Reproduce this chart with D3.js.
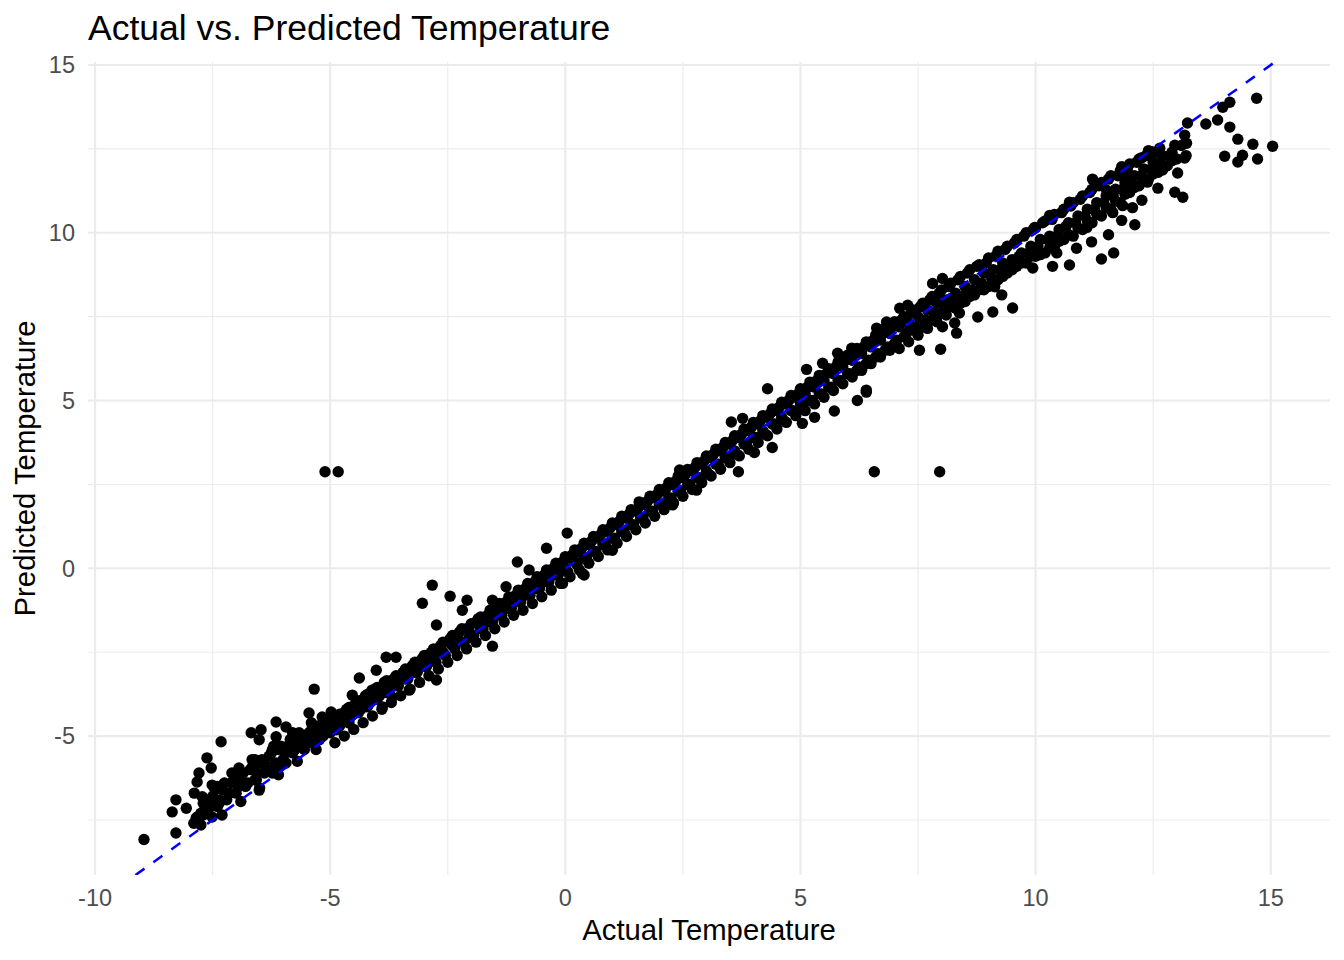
<!DOCTYPE html>
<html lang="en">
<head>
  <meta charset="UTF-8">
  <title>Actual vs. Predicted Temperature</title>
  <script src="https://d3js.org/d3.v7.min.js"></script>
  <style>
    body { margin: 0; padding: 0; background: #fff; }
    svg { display: block; font-family: "Liberation Sans", Arial, Helvetica, sans-serif; }
  </style>
</head>
<body>
<svg id="chart" width="1344" height="960"></svg>
<script>
// [actual, predicted] pairs
const bandMid = [
  [-7.9,-7.6],[-7.85,-7.45],[-7.75,-7.65],[-7.7,-7.35],
  [-7.8,-7.5],[-7.7,-7.0],[-7.6,-7.3],[-7.5,-6.8],[-7.4,-7.1],[-7.3,-6.6],[-7.2,-6.9],[-7.1,-6.4],[-7.0,-6.7],[-6.9,-6.2],
  [-6.8,-6.5],[-6.7,-6.0],[-6.6,-6.3],[-6.5,-5.8],[-6.4,-6.1],[-6.3,-5.6],[-6.2,-5.9],[-6.1,-5.4],[-6.0,-5.7],[-5.9,-5.3],
  [-5.8,-5.5],[-5.7,-5.1],[-5.6,-5.3],[-5.5,-5.0],[-5.4,-5.2],[-5.3,-4.9],[-5.2,-5.0],[-5.1,-4.7],[-5.0,-4.9],[-4.9,-4.5],
  [-4.8,-4.7],[-4.7,-4.3],[-4.6,-4.5],[-4.5,-4.1],[-4.4,-4.3],[-4.3,-3.9],[-4.2,-4.1],[-4.1,-3.8],[-4.0,-3.9],[-3.9,-3.6],
  [-3.8,-3.7],[-3.7,-3.4],[-3.6,-3.5],[-3.5,-3.2],[-3.4,-3.3],[-3.3,-3.0],[-3.2,-3.1],[-3.1,-2.8],[-3.0,-2.9],[-2.9,-2.6],
  [-2.8,-2.7],[-2.7,-2.5],[-2.6,-2.5],[-2.5,-2.2],[-2.4,-2.3],[-2.3,-2.0],[-2.2,-2.2],[-2.1,-1.8],[-2.0,-2.0],[-1.9,-1.6],
  [-1.8,-1.8],[-1.7,-1.5],[-1.6,-1.6],[-1.5,-1.3],[-1.4,-1.4],[-1.3,-1.1],[-1.2,-1.2],[-1.1,-0.9],[-1.0,-1.0],[-0.9,-0.7],
  [-0.8,-0.8],[-0.7,-0.5],[-0.6,-0.6],[-0.5,-0.3],[-0.4,-0.4],[-0.3,-0.1],[-0.2,-0.2],[-0.1,0.1],[0.0,0.0],[0.1,0.3],
  [0.2,0.2],[0.3,0.5],[0.4,0.3],[0.5,0.7],[0.6,0.5],[0.7,0.9],[0.8,0.7],[0.9,1.1],[1.0,0.9],[1.1,1.3],
  [1.2,1.1],[1.3,1.5],[1.4,1.3],[1.5,1.7],[1.6,1.5],[1.7,1.9],[1.8,1.7],[1.9,2.1],[2.0,1.9],[2.1,2.3],
  [2.2,2.1],[2.3,2.5],[2.4,2.3],[2.5,2.7],[2.6,2.5],[2.7,2.9],[2.8,2.7],[2.9,3.1],[3.0,2.9],[3.1,3.3],
  [3.2,3.1],[3.3,3.5],[3.4,3.3],[3.5,3.7],[3.6,3.5],[3.7,3.9],[3.8,3.7],[3.9,4.1],[4.0,3.9],[4.1,4.3],
  [4.2,4.1],[4.3,4.5],[4.4,4.3],[4.5,4.7],[4.6,4.5],[4.7,4.9],[4.8,4.7],[4.9,5.1],[5.0,4.9],[5.1,5.2],
  [5.2,5.0],[5.3,5.4],[5.4,5.2],[5.5,5.6],[5.6,5.4],[5.7,5.8],[5.8,5.6],[5.9,6.0],[6.0,5.8],[6.1,6.2],
  [6.2,5.9],[6.3,6.4],[6.4,6.1],[6.5,6.6],[6.6,6.3],[6.7,6.8],[6.8,6.5],[6.9,7.0],[7.0,6.7],[7.1,7.2],
  [7.2,6.9],[7.3,7.3],[7.4,7.1],[7.5,7.5],[7.6,7.2],[7.7,7.7],[7.8,7.4],[7.9,7.9],[8.0,7.6],[8.1,8.0],
  [8.2,7.8],[8.3,8.2],[8.4,7.9],[8.5,8.4],[8.6,8.1],[8.7,8.6],[8.8,8.3],[8.9,8.8],[9.0,8.4],[9.1,8.9],
  [9.2,8.6],[9.3,9.1],[9.4,8.8],[9.5,9.2],[9.6,9.0],[9.7,9.4],[9.8,9.1],[9.9,9.6],[10.0,9.3],[10.1,9.8],
  [10.2,9.4],[10.3,9.9],[10.4,9.6],[10.5,10.1],[10.6,9.8],[10.7,10.3],[10.8,9.9],[10.9,10.5],[11.0,10.1],[11.1,10.7],
  [11.2,10.3],[11.3,10.9],[11.4,10.5],[11.5,11.1],[11.6,10.7],[11.7,11.3],[11.8,10.9],[11.9,11.5],[12.0,11.2],[12.1,11.7],
  [12.2,11.4],[12.3,11.9],[12.4,11.6],[12.5,12.1],[12.6,11.8],[12.7,12.3],[12.8,12.0],[12.9,12.4],[13.0,12.2],[13.1,12.6],
  [13.2,12.3]
];

const bandLow = [
  [-7.75,-7.3],[-7.55,-7.1],[-7.35,-6.9],[-7.15,-6.7],[-6.95,-6.5],[-6.75,-6.4],[-6.55,-6.1],[-6.35,-5.9],[-6.15,-5.8],[-5.95,-5.5],
  [-5.75,-5.4],[-5.55,-5.4],[-5.35,-5.2],[-5.15,-5.0],[-4.95,-4.8],[-4.75,-4.6],[-4.55,-4.4],[-4.35,-4.2],[-4.15,-4.0],[-3.95,-3.8],
  [-3.75,-3.6],[-3.55,-3.5],[-3.35,-3.3],[-3.15,-3.1],[-2.95,-2.9],[-2.75,-2.8],[-2.55,-2.6],[-2.35,-2.4],[-2.15,-2.2],[-1.95,-2.0],
  [-1.75,-1.8],[-1.55,-1.6],[-1.35,-1.4],[-1.15,-1.2],[-0.95,-1.0],[-0.75,-0.8],[-0.55,-0.6],[-0.35,-0.4],[-0.15,-0.2],[0.05,-0.1],
  [0.25,0.1],[0.45,0.3],[0.65,0.5],[0.85,0.7],[1.05,0.9],[1.25,1.1],[1.45,1.3],[1.65,1.5],[1.85,1.7],[2.05,1.9],
  [2.25,2.1],[2.45,2.3],[2.65,2.5],[2.85,2.7],[3.05,2.8],[3.25,3.1],[3.45,3.3],[3.65,3.4],[3.85,3.7],[4.05,3.9],
  [4.25,4.0],[4.45,4.3],[4.65,4.4],[4.85,4.7],[5.05,4.8],[5.25,5.0],[5.45,5.2],[5.65,5.4],[5.85,5.6],[6.05,5.8],
  [6.25,6.0],[6.45,6.2],[6.65,6.4],[6.85,6.6],[7.05,6.8],[7.25,7.0],[7.45,7.2],[7.65,7.4],[7.85,7.6],[8.05,7.8],
  [8.25,8.0],[8.45,8.1],[8.65,8.3],[8.85,8.5],[9.05,8.7],[9.25,8.9],[9.45,9.0],[9.65,9.3],[9.85,9.4],[10.05,9.6],
  [10.25,9.8],[10.45,9.9],[10.65,10.2],[10.85,10.3],[11.05,10.5],[11.25,10.7],[11.45,10.9],[11.65,11.1],[11.85,11.3],[12.05,11.5],
  [12.25,11.7],[12.45,11.9],[12.65,12.1],[12.85,12.3]
];

const bandHigh = [
  [-7.65,-6.9],[-7.45,-6.6],[-7.25,-6.4],[-7.05,-6.3],[-6.85,-6.1],[-6.65,-5.9],[-6.45,-5.7],[-6.25,-5.5],[-6.05,-5.3],[-5.85,-5.1],
  [-5.65,-5.0],[-5.45,-4.9],[-5.25,-4.7],[-5.05,-4.5],[-4.85,-4.4],[-4.65,-4.2],[-4.45,-4.0],[-4.25,-3.8],[-4.05,-3.6],[-3.85,-3.4],
  [-3.65,-3.3],[-3.45,-3.1],[-3.25,-2.9],[-3.05,-2.7],[-2.85,-2.5],[-2.65,-2.3],[-2.45,-2.1],[-2.25,-1.9],[-2.05,-1.8],[-1.85,-1.5],
  [-1.65,-1.4],[-1.45,-1.2],[-1.25,-1.0],[-1.05,-0.8],[-0.85,-0.6],[-0.65,-0.4],[-0.45,-0.2],[-0.25,0.0],[-0.05,0.2],[0.15,0.4],
  [0.35,0.6],[0.55,0.8],[0.75,1.0],[0.95,1.2],[1.15,1.4],[1.35,1.6],[1.55,1.8],[1.75,2.0],[1.95,2.2],[2.15,2.4],
  [2.35,2.6],[2.55,2.8],[2.75,3.0],[2.95,3.2],[3.15,3.4],[3.35,3.6],[3.55,3.8],[3.75,4.0],[3.95,4.2],[4.15,4.4],
  [4.35,4.6],[4.55,4.8],[4.75,5.0],[4.95,5.2],[5.15,5.4],[5.35,5.6],[5.55,5.8],[5.75,6.0],[5.95,6.2],[6.15,6.4],
  [6.35,6.6],[6.55,6.8],[6.75,7.0],[6.95,7.2],[7.15,7.4],[7.35,7.6],[7.55,7.8],[7.75,8.0],[7.95,8.2],[8.15,8.4],
  [8.35,8.6],[8.55,8.8],[8.75,9.0],[8.95,9.1],[9.15,9.3],[9.35,9.5],[9.55,9.7],[9.75,9.9],[9.95,10.1],[10.15,10.3],
  [10.35,10.4],[10.55,10.6],[10.75,10.8],[10.95,11.0],[11.15,11.2],[11.35,11.4],[11.55,11.6],[11.75,11.7],[11.95,11.9],[12.15,12.1],
  [12.35,12.3],[12.55,12.4]
];

const edgeHigh = [
  [-7.4,-6.5],[-7.0,-6.1],[-6.6,-5.7],[-6.2,-5.3],[-5.8,-4.9],[-5.4,-4.6],
  [-5.0,-4.55],[-4.8,-4.35],[-4.6,-4.15],[-4.4,-3.95],[-4.2,-3.75],[-4.0,-3.55],[-3.8,-3.35],[-3.6,-3.2],[-3.4,-3.0],[-3.2,-2.8],
  [-3.0,-2.6],[-2.8,-2.4],[-2.6,-2.2],[-2.4,-2.0],[-2.2,-1.8],[-2.0,-1.65],[-1.8,-1.45],[-1.6,-1.25],[-1.4,-1.05],[-1.2,-0.85],
  [-1.0,-0.65],[-0.8,-0.45],[-0.6,-0.25],[-0.4,-0.05],[-0.2,0.15],[0.0,0.35],[0.2,0.55],[0.4,0.75],[0.6,0.95],[0.8,1.15],
  [1.0,1.35],[1.2,1.55],[1.4,1.75],[1.6,1.95],[1.8,2.15],[2.0,2.35],[2.2,2.55],[2.4,2.75],[2.6,2.95],[2.8,3.15],
  [3.0,3.35],[3.2,3.55],[3.4,3.75],[3.6,3.95],[3.8,4.15],[4.0,4.35],[4.2,4.55],[4.4,4.75],[4.6,4.95],[4.8,5.15],
  [5.0,5.35],[5.2,5.55],[5.4,5.75],[5.6,5.95],[5.8,6.15],[6.0,6.35],[6.2,6.55],[6.4,6.75],[6.6,6.95],[6.8,7.15],[7.0,7.35],
  [7.2,7.5],[7.4,7.7],[7.6,7.9],[7.8,8.1],[8.0,8.3],[8.2,8.5],[8.4,8.7],[8.6,8.9],[8.8,9.05],[9.0,9.25],
  [9.2,9.45],[9.4,9.6],[9.6,9.8],[9.8,10.0],
  [10.0,10.15],[10.2,10.35],[10.4,10.55],[10.6,10.7],[10.8,10.9],[11.0,11.1],[11.2,11.3],[11.4,11.5],[11.6,11.7],[11.8,11.85],
  [12.0,12.05],[12.2,12.2],[12.4,12.45]
];

const edgeLow = [
  [-7.3,-7.35],[-6.9,-6.95],[-6.5,-6.55],[-6.1,-6.15],[-5.7,-5.75],[-5.3,-5.4],
  [-4.9,-5.2],[-4.7,-5.0],[-4.5,-4.8],[-4.3,-4.6],[-4.1,-4.4],[-3.9,-4.2],[-3.7,-4.0],[-3.5,-3.8],[-3.3,-3.6],[-3.1,-3.4],
  [-2.9,-3.2],[-2.7,-3.0],[-2.5,-2.8],[-2.3,-2.6],[-2.1,-2.4],[-1.9,-2.2],[-1.7,-2.0],[-1.5,-1.8],[-1.3,-1.6],[-1.1,-1.4],
  [-0.9,-1.25],[-0.7,-1.05],[-0.5,-0.85],[-0.3,-0.65],[-0.1,-0.45],[0.1,-0.25],[0.3,-0.05],[0.5,0.15],[0.7,0.35],[0.9,0.55],
  [1.1,0.75],[1.3,0.95],[1.5,1.15],[1.7,1.35],[1.9,1.55],[2.1,1.75],[2.3,1.95],[2.5,2.15],[2.7,2.35],[2.9,2.55],
  [3.1,2.75],[3.3,2.95],[3.5,3.15],[3.7,3.35],[3.9,3.55],[4.1,3.75],[4.3,3.95],[4.5,4.15],[4.7,4.35],[4.9,4.55],
  [5.1,4.7],[5.3,4.9],[5.5,5.1],[5.7,5.3],[5.9,5.5],[6.1,5.7],[6.3,5.9],[6.5,6.1],[6.7,6.3],[6.9,6.5],
  [7.1,6.55],[7.3,6.75],[7.5,6.95],[7.7,7.15],[7.9,7.35],[8.1,7.55],[8.3,7.75],[8.5,7.95],[8.7,8.15],[8.9,8.3],
  [9.1,8.5],[9.3,8.7],[9.5,8.9],[9.7,9.1],[9.9,9.3],
  [10.1,9.35],[10.3,9.55],[10.5,9.75],[10.7,9.95],[10.9,10.15],[11.1,10.35],[11.3,10.55],[11.5,10.75],[11.7,10.95],[11.9,11.15],
  [12.1,11.35],[12.3,11.55],[12.5,11.75],[12.7,11.95],[12.9,12.15]
];

const scattered = [
  [-8.96,-8.08],[-8.28,-7.89],[-8.36,-7.26],[-8.28,-6.90],[-8.06,-7.15],[-7.83,-7.41],[-7.89,-6.70],[-7.79,-6.10],
  [-7.83,-6.37],[-7.62,-5.65],[-7.53,-5.95],[-7.51,-6.46],[-7.32,-5.17],[-7.72,-6.81],[-7.64,-7.11],[-7.51,-7.41],
  [-7.36,-7.0],[-7.09,-6.10],[-6.94,-5.95],[-7.15,-6.70],[-6.94,-6.31],[-6.68,-4.90],[-6.47,-4.81],[-6.51,-5.11],
  [-6.66,-5.70],[-6.51,-6.61],[-6.57,-6.31],[-6.36,-6.01],[-6.15,-4.58],[-5.94,-4.73],[-6.15,-5.02],[-6.23,-5.41],
  [-6.09,-5.92],[-6.23,-6.10],[-5.94,-5.80],[-5.81,-5.32],[-5.66,-4.90],[-5.51,-5.11],[-5.38,-4.73],[-5.45,-4.31],
  [-5.34,-3.60],[-5.17,-4.43],[-4.98,-4.28],[-5.23,-5.11],[-5.09,-4.90],[-4.87,-4.81],[-4.60,-4.61],[-4.53,-3.78],
  [-4.38,-3.27],[-4.23,-4.13],[-4.02,-3.04],[-4.11,-3.63],[-3.81,-2.65],[-3.60,-2.65],[-3.89,-4.13],[-3.68,-3.84],
  [-3.32,-3.63],[-2.74,-3.33],[-2.96,-2.94],
  [-5.11,2.88],[-4.83,2.88],[-2.83,-0.50],[-3.04,-1.04],[-2.45,-0.83],[-2.74,-1.69],[-2.19,-1.25],[-2.09,-0.95],
  [-1.55,-2.32],[-1.02,0.19],[-0.40,0.60],[0.04,1.05],[1.0,0.54],[0.36,-0.15],[-0.06,-0.45],[-0.77,-0.05],
  [-1.26,-0.55],[-1.55,-0.95],[-2.04,-2.05],[0.40,-0.2],[1.57,1.98],[2.43,2.93],[2.79,2.33],[2.28,1.89],
  [4.30,5.35],[3.53,4.36],[3.77,4.47],[3.68,2.88],[4.40,3.60],[4.02,3.45],[6.57,2.88],[7.96,2.88],
  [5.13,5.93],[5.47,6.11],[5.79,6.41],[6.09,6.56],[6.21,5.0],[6.40,5.25],[5.72,4.69],[5.30,4.50],
  [5.04,4.32],[6.62,7.16],[6.83,7.34],[7.11,7.75],[7.28,7.84],[7.81,8.49],[8.02,8.64],[7.53,6.50],
  [7.98,6.53],[8.32,7.01],[8.02,7.20],[8.77,7.49],[9.09,7.64],[9.51,7.76],[9.28,8.15],[9.13,8.39],
  [8.38,7.61],[8.28,7.31],[9.94,8.95],[10.36,9.0],[6.40,5.31],
  [14.70,14.01],[15.04,12.58],[14.30,12.79],[14.62,12.64],[14.72,12.20],[14.30,12.11],[14.40,12.31],[14.02,12.28],
  [14.13,13.15],[13.87,13.36],[13.98,13.74],[14.13,13.89],[13.62,13.24],[13.23,13.27],[13.17,12.91],[13.21,12.67],
  [12.96,12.61],[13.17,12.23],[13.02,11.78],[12.96,11.21],[13.13,11.06],[12.60,11.33],[12.64,12.52],[12.70,11.87],
  [12.38,11.51],[12.26,10.97],[12.11,10.24],[12.06,10.75],[11.85,10.81],[11.83,10.37],[11.64,10.60],[11.66,9.40],
  [11.40,9.22],[11.55,9.94],[11.19,9.73],[11.09,10.16],[10.87,9.54],[10.72,9.04],[10.45,9.40],[11.21,11.60],
  [11.83,11.97],[12.47,12.42],[12.26,12.24],[11.51,11.27],[11.94,11.67],[10.72,10.91],[10.30,10.52],[9.98,10.16]
];

const xMajor = [-10, -5, 0, 5, 10, 15];
const xMinor = [-7.5, -2.5, 2.5, 7.5, 12.5];
const yMajor = [-5, 0, 5, 10, 15];
const yMinor = [-7.5, -2.5, 2.5, 7.5, 12.5];

const svg = d3.select("#chart");
const margin = {top: 62, right: 14, bottom: 85, left: 88};
const width = 1344 - margin.left - margin.right,
      height = 960 - margin.top - margin.bottom;

const x = d3.scaleLinear().domain([-10.15, 16.26]).range([0, width]);
const y = d3.scaleLinear().domain([-9.14, 15.09]).range([height, 0]);

const g = svg.append("g").attr("transform", `translate(${margin.left},${margin.top})`);

// grid
g.selectAll(".xminor").data(xMinor).enter().append("line")
  .attr("x1", d => x(d)).attr("x2", d => x(d)).attr("y1", 0).attr("y2", height)
  .attr("stroke", "#ebebeb").attr("stroke-width", 1.1);
g.selectAll(".yminor").data(yMinor).enter().append("line")
  .attr("y1", d => y(d)).attr("y2", d => y(d)).attr("x1", 0).attr("x2", width)
  .attr("stroke", "#ebebeb").attr("stroke-width", 1.1);
g.selectAll(".xmajor").data(xMajor).enter().append("line")
  .attr("x1", d => x(d)).attr("x2", d => x(d)).attr("y1", 0).attr("y2", height)
  .attr("stroke", "#ebebeb").attr("stroke-width", 2.1);
g.selectAll(".ymajor").data(yMajor).enter().append("line")
  .attr("y1", d => y(d)).attr("y2", d => y(d)).attr("x1", 0).attr("x2", width)
  .attr("stroke", "#ebebeb").attr("stroke-width", 2.1);

// points
const allPoints = bandMid.concat(bandLow, bandHigh, edgeHigh, edgeLow, scattered);
g.append("g").selectAll("circle").data(allPoints).enter().append("circle")
  .attr("cx", d => x(d[0]))
  .attr("cy", d => y(d[1]))
  .attr("r", 5.7)
  .attr("fill", "#000");

// y = x reference line, clipped to panel
svg.append("clipPath").attr("id", "panel").append("rect")
  .attr("width", width).attr("height", height);
const lo = -9.14, hi = 15.09;
g.append("line")
  .attr("clip-path", "url(#panel)")
  .attr("x1", x(lo)).attr("y1", y(lo))
  .attr("x2", x(hi)).attr("y2", y(hi))
  .attr("stroke", "#0000ff")
  .attr("stroke-width", 2.5)
  .attr("stroke-dasharray", "11,11");

// tick labels
g.selectAll(".xt").data(xMajor).enter().append("text")
  .attr("x", d => x(d)).attr("y", height + 31)
  .attr("text-anchor", "middle")
  .attr("font-size", 23.5).attr("fill", "#4d4d4d")
  .text(d => d);
g.selectAll(".yt").data(yMajor).enter().append("text")
  .attr("x", -13).attr("y", d => y(d)).attr("dy", "0.35em")
  .attr("text-anchor", "end")
  .attr("font-size", 23.5).attr("fill", "#4d4d4d")
  .text(d => d);

// titles
svg.append("text")
  .attr("x", margin.left).attr("y", 40)
  .attr("font-size", 35.5).attr("fill", "#000")
  .text("Actual vs. Predicted Temperature");
svg.append("text")
  .attr("x", margin.left + width / 2).attr("y", 940)
  .attr("text-anchor", "middle")
  .attr("font-size", 29.3).attr("fill", "#000")
  .text("Actual Temperature");
svg.append("text")
  .attr("transform", `translate(35,${margin.top + height / 2}) rotate(-90)`)
  .attr("text-anchor", "middle")
  .attr("font-size", 29.3).attr("fill", "#000")
  .text("Predicted Temperature");
</script>
</body>
</html>
